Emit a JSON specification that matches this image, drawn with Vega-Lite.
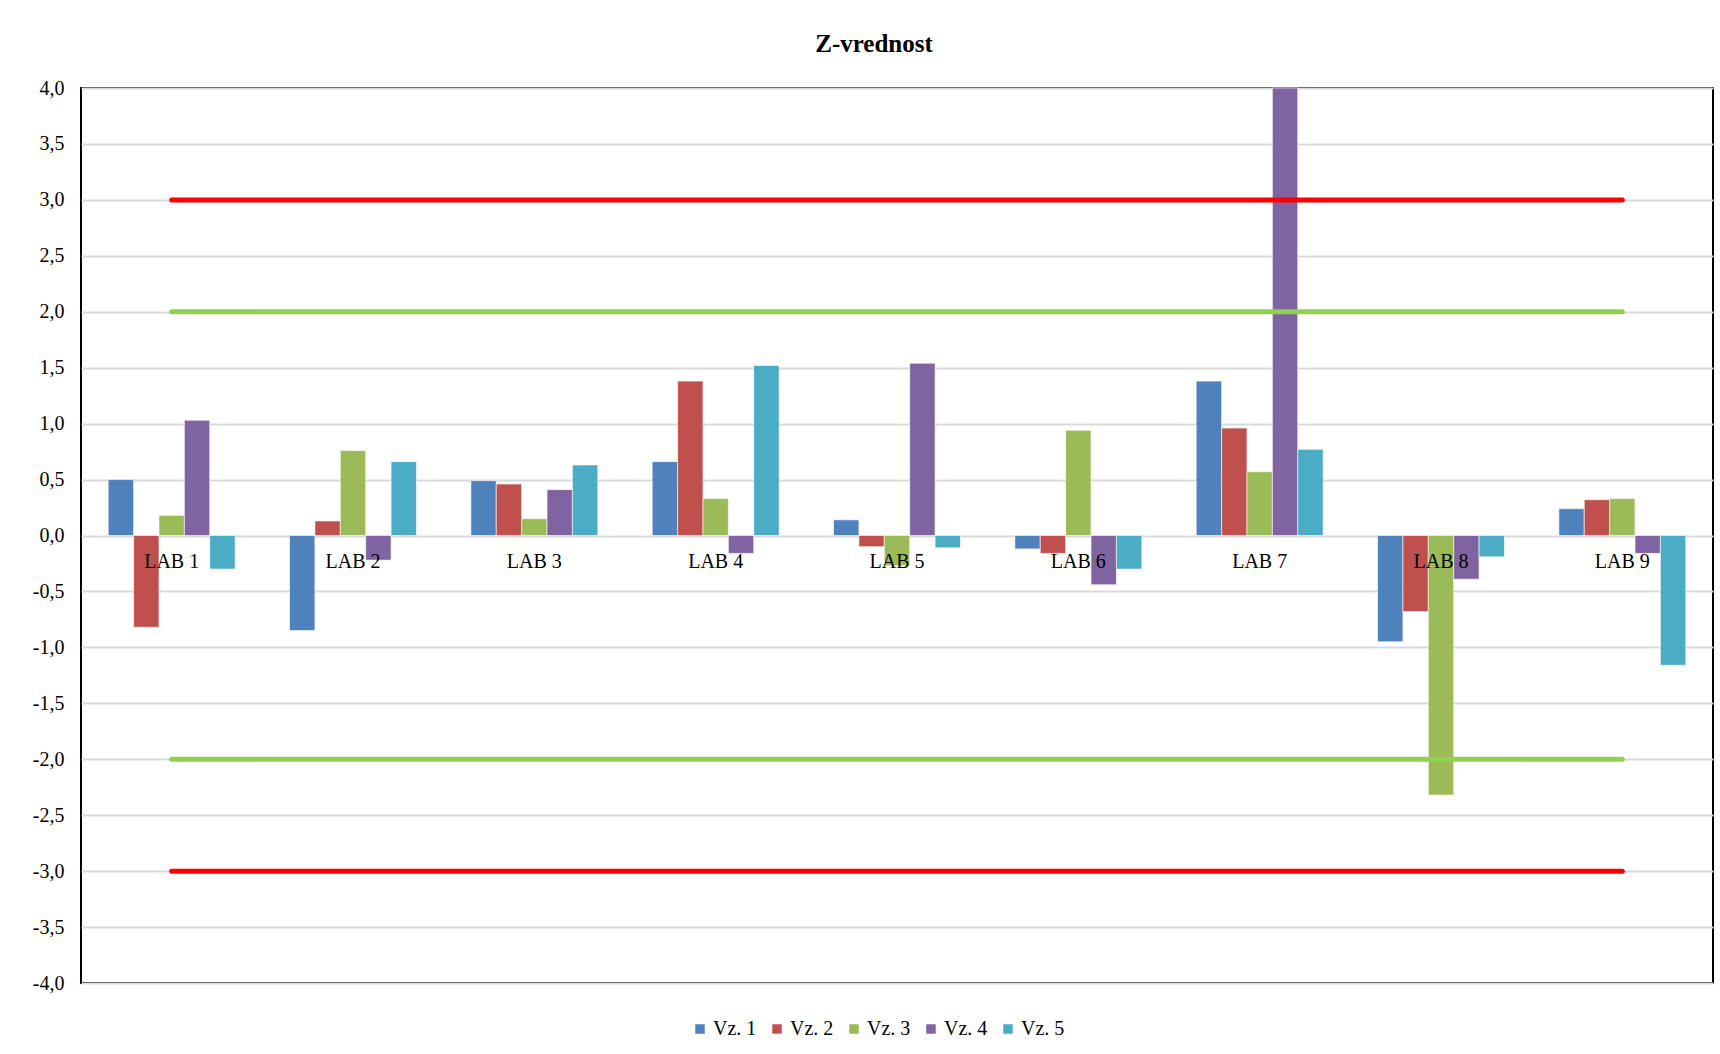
{
  "$schema": "https://vega.github.io/schema/vega-lite/v6.json",
  "width": 1632,
  "height": 895,
  "autosize": {"type": "none"},
  "padding": {"left": 81, "top": 88, "right": 7, "bottom": 71},
  "background": "white",
  "title": {"text": "Z-vrednost", "font": "Liberation Serif", "fontSize": 25, "fontWeight": "bold", "color": "#000", "offset": 21, "dx": -23, "anchor": "middle"},
  "config": {"view": {"stroke": "#000", "strokeWidth": 2}, "font": "Liberation Serif"},
  "datasets": {
    "bars": [
      {"lab": "LAB 1", "series": "Vz. 1", "z": 0.50},
      {"lab": "LAB 1", "series": "Vz. 2", "z": -0.82},
      {"lab": "LAB 1", "series": "Vz. 3", "z": 0.18},
      {"lab": "LAB 1", "series": "Vz. 4", "z": 1.03},
      {"lab": "LAB 1", "series": "Vz. 5", "z": -0.30},
      {"lab": "LAB 2", "series": "Vz. 1", "z": -0.85},
      {"lab": "LAB 2", "series": "Vz. 2", "z": 0.13},
      {"lab": "LAB 2", "series": "Vz. 3", "z": 0.76},
      {"lab": "LAB 2", "series": "Vz. 4", "z": -0.22},
      {"lab": "LAB 2", "series": "Vz. 5", "z": 0.66},
      {"lab": "LAB 3", "series": "Vz. 1", "z": 0.49},
      {"lab": "LAB 3", "series": "Vz. 2", "z": 0.46},
      {"lab": "LAB 3", "series": "Vz. 3", "z": 0.15},
      {"lab": "LAB 3", "series": "Vz. 4", "z": 0.41},
      {"lab": "LAB 3", "series": "Vz. 5", "z": 0.63},
      {"lab": "LAB 4", "series": "Vz. 1", "z": 0.66},
      {"lab": "LAB 4", "series": "Vz. 2", "z": 1.38},
      {"lab": "LAB 4", "series": "Vz. 3", "z": 0.33},
      {"lab": "LAB 4", "series": "Vz. 4", "z": -0.16},
      {"lab": "LAB 4", "series": "Vz. 5", "z": 1.52},
      {"lab": "LAB 5", "series": "Vz. 1", "z": 0.14},
      {"lab": "LAB 5", "series": "Vz. 2", "z": -0.10},
      {"lab": "LAB 5", "series": "Vz. 3", "z": -0.27},
      {"lab": "LAB 5", "series": "Vz. 4", "z": 1.54},
      {"lab": "LAB 5", "series": "Vz. 5", "z": -0.11},
      {"lab": "LAB 6", "series": "Vz. 1", "z": -0.12},
      {"lab": "LAB 6", "series": "Vz. 2", "z": -0.16},
      {"lab": "LAB 6", "series": "Vz. 3", "z": 0.94},
      {"lab": "LAB 6", "series": "Vz. 4", "z": -0.44},
      {"lab": "LAB 6", "series": "Vz. 5", "z": -0.30},
      {"lab": "LAB 7", "series": "Vz. 1", "z": 1.38},
      {"lab": "LAB 7", "series": "Vz. 2", "z": 0.96},
      {"lab": "LAB 7", "series": "Vz. 3", "z": 0.57},
      {"lab": "LAB 7", "series": "Vz. 4", "z": 4.0},
      {"lab": "LAB 7", "series": "Vz. 5", "z": 0.77},
      {"lab": "LAB 8", "series": "Vz. 1", "z": -0.95},
      {"lab": "LAB 8", "series": "Vz. 2", "z": -0.68},
      {"lab": "LAB 8", "series": "Vz. 3", "z": -2.32},
      {"lab": "LAB 8", "series": "Vz. 4", "z": -0.39},
      {"lab": "LAB 8", "series": "Vz. 5", "z": -0.19},
      {"lab": "LAB 9", "series": "Vz. 1", "z": 0.24},
      {"lab": "LAB 9", "series": "Vz. 2", "z": 0.32},
      {"lab": "LAB 9", "series": "Vz. 3", "z": 0.33},
      {"lab": "LAB 9", "series": "Vz. 4", "z": -0.16},
      {"lab": "LAB 9", "series": "Vz. 5", "z": -1.16}
    ],
    "limits": [
      {"lab": "LAB 1", "z": 3, "g": "+3"},
      {"lab": "LAB 9", "z": 3, "g": "+3"},
      {"lab": "LAB 1", "z": -3, "g": "-3"},
      {"lab": "LAB 9", "z": -3, "g": "-3"},
      {"lab": "LAB 1", "z": 2, "g": "+2"},
      {"lab": "LAB 9", "z": 2, "g": "+2"},
      {"lab": "LAB 1", "z": -2, "g": "-2"},
      {"lab": "LAB 9", "z": -2, "g": "-2"}
    ]
  },
  "layer": [
    {
      "data": {"name": "bars"},
      "mark": {"type": "bar", "stroke": "white", "strokeWidth": 0.6},
      "encoding": {
        "x": {
          "field": "lab", "type": "nominal", "sort": null,
          "scale": {"paddingInner": 0.3, "paddingOuter": 0.15},
          "axis": {"orient": "bottom", "offset": -448, "domain": false, "ticks": false, "grid": false, "title": null, "labelAngle": 0, "labelFontSize": 20, "labelFont": "Liberation Serif", "labelColor": "#000", "labelPadding": 16, "zindex": 1}
        },
        "xOffset": {"field": "series", "type": "nominal", "sort": null, "scale": {"paddingInner": 0, "paddingOuter": 0}},
        "y": {
          "field": "z", "type": "quantitative",
          "scale": {"domain": [-4, 4], "nice": false, "zero": false},
          "axis": {"values": [-4, -3.5, -3, -2.5, -2, -1.5, -1, -0.5, 0, 0.5, 1, 1.5, 2, 2.5, 3, 3.5, 4], "labelExpr": "(datum.value < 0 ? '-' : '') + replace(format(abs(datum.value), '.1f'), '.', ',')", "ticks": false, "domain": false, "grid": true, "gridColor": "#D9D9D9", "gridWidth": 2, "labelFontSize": 20, "labelFont": "Liberation Serif", "labelColor": "#000", "labelPadding": 17, "title": null}
        },
        "color": {
          "field": "series", "type": "nominal",
          "scale": {"domain": ["Vz. 1", "Vz. 2", "Vz. 3", "Vz. 4", "Vz. 5"], "range": ["#4F81BD", "#C0504D", "#9BBB59", "#8064A2", "#4BACC6"]},
          "legend": {"orient": "none", "legendX": 609, "legendY": 931, "direction": "horizontal", "title": null, "symbolType": "square", "symbolSize": 90, "symbolStrokeWidth": 0, "labelFontSize": 20, "labelFont": "Liberation Serif", "labelColor": "#000", "columnPadding": 10, "labelOffset": 3}
        }
      }
    },
    {
      "data": {"name": "limits"},
      "mark": {"type": "line", "strokeWidth": 5, "strokeCap": "round"},
      "encoding": {
        "x": {"field": "lab", "type": "nominal", "sort": null},
        "y": {"field": "z", "type": "quantitative"},
        "detail": {"field": "g", "type": "nominal"},
        "stroke": {"field": "g", "type": "nominal", "scale": {"domain": ["+3", "-3", "+2", "-2"], "range": ["#FF0000", "#FF0000", "#92D050", "#92D050"]}, "legend": null}
      }
    }
  ]
}
